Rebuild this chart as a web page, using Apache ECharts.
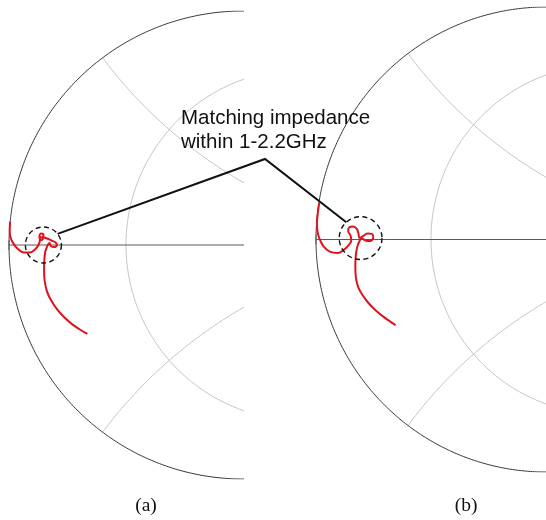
<!DOCTYPE html>
<html>
<head>
<meta charset="utf-8">
<style>
  html, body { margin: 0; padding: 0; background: #fff; }
  #chart { width: 546px; height: 520px; }
</style>
<script src="https://cdn.jsdelivr.net/npm/echarts@6/dist/echarts.min.js"></script>
</head>
<body>
<div id="chart"></div>
<script>
// Reflection coefficient traces [Re Γ, Im Γ] for the two matching networks
const traceA = [
  [-0.995, 0.100], [-0.997, 0.064], [-0.994, 0.034], [-0.981, 0.006], [-0.962, -0.017],
  [-0.936, -0.032], [-0.910, -0.032], [-0.889, -0.019], [-0.874, 0.000], [-0.868, 0.021],
  [-0.870, 0.038], [-0.863, 0.049], [-0.853, 0.045], [-0.853, 0.030], [-0.863, 0.021],
  [-0.868, 0.030], [-0.857, 0.034], [-0.838, 0.028], [-0.818, 0.019], [-0.801, 0.011],
  [-0.795, 0.000], [-0.806, -0.009], [-0.821, -0.004], [-0.827, 0.009], [-0.833, 0.002],
  [-0.840, -0.013], [-0.846, -0.034], [-0.849, -0.064], [-0.850, -0.107], [-0.848, -0.150],
  [-0.838, -0.197], [-0.821, -0.235], [-0.795, -0.274], [-0.765, -0.308], [-0.731, -0.338],
  [-0.697, -0.361], [-0.665, -0.380]
];
const traceB = [
  [-0.986, 0.157], [-0.992, 0.114], [-0.996, 0.071], [-0.994, 0.037], [-0.985, 0.004],
  [-0.968, -0.028], [-0.940, -0.052], [-0.905, -0.058], [-0.880, -0.045], [-0.860, -0.026],
  [-0.847, -0.006], [-0.849, 0.015], [-0.860, 0.037], [-0.856, 0.052], [-0.839, 0.056],
  [-0.822, 0.045], [-0.815, 0.024], [-0.811, 0.006], [-0.798, 0.013], [-0.776, 0.026],
  [-0.757, 0.024], [-0.751, 0.009], [-0.763, -0.006], [-0.785, -0.004], [-0.802, 0.004],
  [-0.813, -0.011], [-0.822, -0.037], [-0.827, -0.071], [-0.829, -0.114], [-0.827, -0.161],
  [-0.817, -0.204], [-0.798, -0.239], [-0.772, -0.273], [-0.740, -0.305], [-0.703, -0.335],
  [-0.677, -0.353], [-0.654, -0.368]
];

// Highlighted matching regions: [Re Γ, Im Γ, radius]
const matchZoneA = [-0.853, 0.000, 0.077];
const matchZoneB = [-0.806, 0.006, 0.093];

// Smith chart grid: constant resistance circles and constant reactance arcs
const resistanceCircles = [1 / 3];
const reactanceArcs = [0.5, -0.5];

const annotationLines = ['Matching impedance', 'within 1-2.2GHz'];
const panelLabels = ['(a)', '(b)'];

// Γ = (z - 1) / (z + 1)
function gamma(r, x) {
  const d = (r + 1) * (r + 1) + x * x;
  return [(r * r - 1 + x * x) / d, (2 * x) / d];
}
function resistanceTrace(r) {
  const pts = [];
  for (let i = -720; i <= 720; i++) {
    const phi = (i / 721) * Math.PI / 2;
    pts.push(gamma(r, Math.tan(phi)));
  }
  return pts;
}
function reactanceTrace(x) {
  const pts = [];
  for (let i = 0; i <= 720; i++) {
    const phi = (i / 721) * Math.PI / 2;
    pts.push(gamma(Math.tan(phi), x));
  }
  return pts;
}

const chart = echarts.init(document.getElementById('chart'), null, { renderer: 'canvas' });

const grids = [
  { left: 9, top: 11, width: 234, height: 468 },
  { left: 316, top: 7, width: 232.5, height: 465 }
];

const series = [];
const traces = [traceA, traceB];
const zones = [matchZoneA, matchZoneB];

[0, 1].forEach(function (g) {
  const base = { type: 'line', xAxisIndex: g, yAxisIndex: g, showSymbol: false, silent: true, clip: true, animation: false };
  // outer boundary |Γ| = 1
  series.push(Object.assign({}, base, { data: resistanceTrace(0), lineStyle: { color: '#3a3a3a', width: 1 }, z: 3 }));
  resistanceCircles.forEach(function (r) {
    series.push(Object.assign({}, base, { data: resistanceTrace(r), lineStyle: { color: '#c4c4c4', width: 1 }, z: 2 }));
  });
  reactanceArcs.forEach(function (x) {
    series.push(Object.assign({}, base, { data: reactanceTrace(x), lineStyle: { color: '#c4c4c4', width: 1 }, z: 2 }));
  });
  // real axis
  series.push(Object.assign({}, base, { data: [[-1, 0], [1, 0]], lineStyle: { color: '#5a5a5a', width: 1 }, z: 3 }));
  // measured trace
  series.push(Object.assign({}, base, {
    data: traces[g], smooth: 0.35,
    lineStyle: { color: '#e0121c', width: 2 }, z: 6
  }));
  // dashed highlight circle
  series.push({
    type: 'custom', xAxisIndex: g, yAxisIndex: g, silent: true, animation: false, z: 7,
    data: [zones[g]],
    renderItem: function (params, api) {
      const c = api.coord([api.value(0), api.value(1)]);
      const rr = api.size([api.value(2), 0])[0];
      return {
        type: 'circle',
        shape: { cx: c[0], cy: c[1], r: rr },
        style: { fill: null, stroke: '#111', lineWidth: 1.4, lineDash: [5, 3.5] }
      };
    }
  });
});

chart.setOption({
  backgroundColor: '#fff',
  animation: false,
  grid: grids,
  xAxis: [0, 1].map(function (g) {
    return { type: 'value', gridIndex: g, min: -1, max: 0, show: false };
  }),
  yAxis: [0, 1].map(function (g) {
    return { type: 'value', gridIndex: g, min: -1, max: 1, show: false };
  }),
  series: series
});

// Annotation leader lines, tick marks at Γ = -1 and panel labels
const cA = chart.convertToPixel({ gridIndex: 0 }, [matchZoneA[0], matchZoneA[1]]);
const rA = chart.convertToPixel({ gridIndex: 0 }, [matchZoneA[0] + matchZoneA[2], 0])[0] - chart.convertToPixel({ gridIndex: 0 }, [matchZoneA[0], 0])[0];
const cB = chart.convertToPixel({ gridIndex: 1 }, [matchZoneB[0], matchZoneB[1]]);
const rB = chart.convertToPixel({ gridIndex: 1 }, [matchZoneB[0] + matchZoneB[2], 0])[0] - chart.convertToPixel({ gridIndex: 1 }, [matchZoneB[0], 0])[0];
const angA = -38 * Math.PI / 180;
const angB = -132 * Math.PI / 180;
const endA = [cA[0] + rA * Math.cos(angA), cA[1] + rA * Math.sin(angA)];
const endB = [cB[0] + rB * Math.cos(angB), cB[1] + rB * Math.sin(angB)];
const elbow = [265, 159];
const leftA = chart.convertToPixel({ gridIndex: 0 }, [-1, 0]);
const leftB = chart.convertToPixel({ gridIndex: 1 }, [-1, 0]);

chart.setOption({
  graphic: [
    {
      type: 'polyline', silent: true, z: 10,
      shape: { points: [endA, elbow, endB] },
      style: { stroke: '#111', lineWidth: 2, fill: null }
    },
    {
      type: 'line', silent: true, z: 10,
      shape: { x1: leftA[0], y1: leftA[1] - 5, x2: leftA[0], y2: leftA[1] + 5 },
      style: { stroke: '#5a5a5a', lineWidth: 1 }
    },
    {
      type: 'line', silent: true, z: 10,
      shape: { x1: leftB[0], y1: leftB[1] - 5, x2: leftB[0], y2: leftB[1] + 5 },
      style: { stroke: '#5a5a5a', lineWidth: 1 }
    },
    {
      type: 'text', silent: true, z: 10, left: 181, top: 107,
      style: {
        text: annotationLines.join('\n'),
        font: '20.5px "Liberation Sans", Arial, sans-serif',
        lineHeight: 23.5, fill: '#111'
      }
    },
    {
      type: 'text', silent: true, z: 10, x: 146, y: 506,
      style: {
        text: panelLabels[0], font: '19.5px "Liberation Serif", "Times New Roman", serif',
        fill: '#111', align: 'center', verticalAlign: 'middle'
      }
    },
    {
      type: 'text', silent: true, z: 10, x: 466, y: 506,
      style: {
        text: panelLabels[1], font: '19.5px "Liberation Serif", "Times New Roman", serif',
        fill: '#111', align: 'center', verticalAlign: 'middle'
      }
    }
  ]
});
</script>
</body>
</html>
